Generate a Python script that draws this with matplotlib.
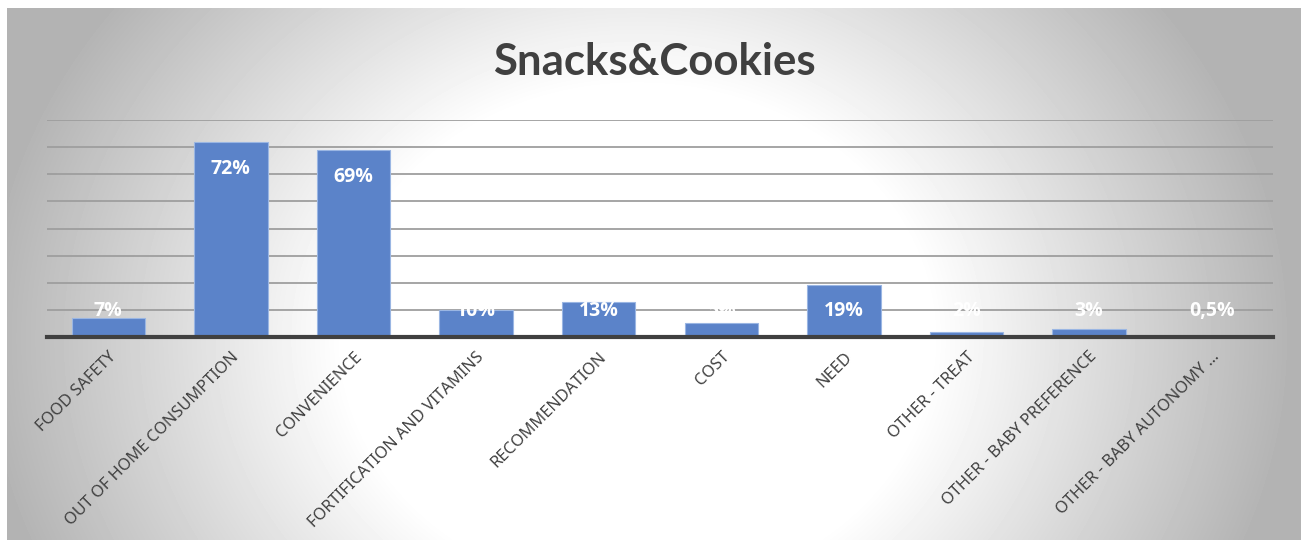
import numpy as np
import matplotlib
matplotlib.use("Agg")
import matplotlib.pyplot as plt

# Snacks & Cookies purchase reasons
categories = ["FOOD SAFETY", "OUT OF HOME CONSUMPTION", "CONVENIENCE",
              "FORTIFICATION AND VITAMINS", "RECOMMENDATION", "COST", "NEED",
              "OTHER - TREAT", "OTHER - BABY PREFERENCE", "OTHER - BABY AUTONOMY ..."]
values = [7, 72, 69, 10, 13, 5, 19, 2, 3, 0.5]
labels = ["7%", "72%", "69%", "10%", "13%", "5%", "19%", "2%", "3%", "0,5%"]

W, H = 1309, 547
fig = plt.figure(figsize=(W / 100, H / 100), dpi=100)
fig.patch.set_facecolor("white")

# radial grey-to-white backdrop inside the chart frame
x0, x1, y0, y1 = 7, 1301, 8, 540
yy, xx = np.mgrid[0:(y1 - y0), 0:(x1 - x0)]
cx, cy = 630, 330
d = np.sqrt(((xx - cx) / 700.0) ** 2 + ((yy - cy) / 600.0) ** 2)
g = 1.0 - 0.30 * np.clip((d - 0.42) / 0.52, 0, 1)
bg = fig.add_axes([x0 / W, 1 - y1 / H, (x1 - x0) / W, (y1 - y0) / H])
bg.imshow(g, cmap="gray", vmin=0, vmax=1, aspect="auto", interpolation="bilinear")
bg.axis("off")

ax = fig.add_axes([47 / W, (H - 337) / H, 1226 / W, 217 / H])
ax.patch.set_alpha(0)
x = np.arange(len(categories))
ax.bar(x, values, width=0.6, color="#5b83c9", edgecolor="#9ab6e3", linewidth=0.8, zorder=3)

ax.set_xlim(-0.5, len(categories) - 0.5)
ax.set_ylim(0, 80)
ax.set_yticks(np.arange(10, 81, 10))
ax.yaxis.grid(True, color="#9e9e9e", linewidth=1.3, zorder=0)
ax.tick_params(axis="y", left=False, labelleft=False)
ax.tick_params(axis="x", bottom=False, pad=5)
for s in ["top", "right", "left"]:
    ax.spines[s].set_visible(False)
ax.spines["bottom"].set_color("#404040")
ax.spines["bottom"].set_linewidth(3)
ax.spines["bottom"].set_zorder(4)

ax.set_xticks(x)
ax.set_xticklabels(categories, rotation=45, ha="right", rotation_mode="anchor",
                   fontsize=11.8, color="#404040", family="Noto Sans")

# value labels near the top of each bar, kept inside the plot area
for xi, v, lab in zip(x, values, labels):
    ax.text(xi, max(v - 10, 9.6), lab, ha="center", va="center", color="white",
            fontsize=14, fontweight="bold", family="Open Sans", zorder=5)

fig.text(0.5, 1 - 62 / H, "Snacks&Cookies", ha="center", va="center",
         fontsize=31.5, fontweight="bold", color="#404040", family="Lato")

fig.savefig("out.png", dpi=100)
